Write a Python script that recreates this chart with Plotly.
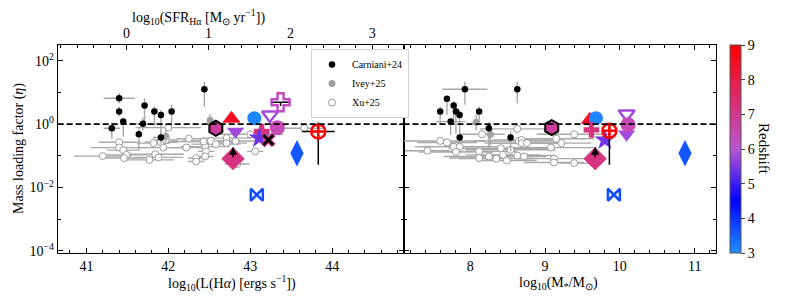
import numpy as np
import plotly.graph_objects as go

# ---------------- data ----------------
# Carniani+24 (left: L(Halpha), right: stellar mass); log10(eta) with asymmetric errors (dex)
car_L = [41.40, 41.40, 41.45, 41.31, 41.71, 41.69, 41.64, 41.83, 41.91, 42.04, 41.91, 42.44]
car_L_eta = [0.82, 0.40, 0.08, -0.13, 0.59, 0.01, -0.32, 0.40, 0.29, 0.40, -0.42, 1.10]
car_L_xerr = [0.19, 0.0, 0.0, 0.10, 0.0, 0.17, 0.0, 0.0, 0.0, 0.0, 0.10, 0.0]
car_L_eup = [0.16, 0.16, 0.10, 0.19, 0.23, 0.20, 0.19, 0.16, 0.16, 0.21, 0.20, 0.24]
car_L_edn = [0.16, 0.16, 0.47, 0.32, 0.56, 0.20, 0.49, 0.47, 0.68, 0.47, 0.20, 0.55]

car_M = [7.93, 8.63, 7.69, 7.78, 7.60, 7.81, 7.86, 8.12, 7.74, 8.25, 7.86, 8.54]
car_M_eta = [1.10, 1.10, 0.80, 0.59, 0.40, 0.40, 0.29, 0.40, 0.08, -0.13, -0.42, -0.42]
car_M_xerr = [0.30, 0.0, 0.0, 0.0, 0.0, 0.0, 0.0, 0.0, 0.20, 0.0, 0.0, 0.0]
car_M_eup = [0.24, 0.24, 0.07, 0.13, 0.16, 0.16, 0.16, 0.16, 0.10, 0.19, 0.19, 0.19]
car_M_edn = [0.49, 0.44, 0.50, 0.50, 0.42, 0.70, 0.74, 0.42, 0.42, 0.63, 0.23, 0.44]

# Ivey+25
ivey_L = [42.51, 41.97]
ivey_L_eta = [0.12, -0.38]
ivey_L_err = [0.20, 0.20]
ivey_M = [8.08, 8.27]
ivey_M_eta = [0.06, -0.32]
ivey_M_err = [0.25, 0.35]

# Xu+25
xu_L = [41.20, 41.40, 41.40, 41.45, 41.49, 41.46, 41.77, 41.82, 41.84, 41.88, 41.91, 41.94,
        41.97, 42.00, 42.22, 42.25, 42.34, 42.34, 42.45, 42.46, 42.45, 42.43, 42.52, 42.58,
        42.71, 42.71, 42.84, 43.00, 43.06, 43.66, 42.82]
xu_L_eta = [-1.01, -0.57, -0.74, -0.82, -0.97, -1.07, -1.13, -0.60, -0.95, -1.05, -0.57, -0.74,
            -0.50, -0.11, -0.74, -0.46, -1.07, -1.18, -0.71, -0.86, -1.02, -0.55, -0.53, -0.63,
            -0.44, -0.60, -1.26, -0.32, -0.86, -0.13, -0.53]
xu_L_xerr = [0.35, 0.25, 0.35, 0.20, 0.30, 0.25, 0.30, 0.20, 0.35, 0.30, 0.20, 0.30,
             0.15, 0.40, 0.20, 0.15, 0.10, 0.10, 0.30, 0.10, 0.10, 0.40, 0.35, 0.30,
             0.30, 0.25, 0.15, 0.40, 0.10, 0.25, 0.30]

xu_M = [7.43, 7.60, 7.69, 7.78, 7.86, 7.81, 8.12, 8.12, 8.16, 8.25, 8.35, 8.41, 8.44, 8.49,
        8.54, 8.63, 8.63, 8.65, 8.69, 8.69, 8.72, 8.76, 9.08, 9.12, 9.12, 9.15, 9.22, 9.39, 9.39]
xu_M_eta = [-0.84, -0.53, -0.58, -0.71, -0.71, -0.88, -0.86, -1.07, -0.32, -1.02, -1.09, -0.76,
            -0.97, -1.15, -0.81, -0.15, -0.99, -0.53, -0.50, -0.60, -1.02, -0.60, -0.74, -1.09,
            -1.21, -0.46, -0.60, -0.32, -1.23]
xu_M_xerr = [0.30, 0.60, 0.40, 0.50, 0.60, 0.50, 0.50, 0.40, 0.30, 0.60, 0.50, 0.70, 0.50, 0.40,
             0.60, 0.50, 0.50, 0.60, 0.40, 0.50, 0.30, 0.50, 0.60, 0.50, 0.40, 0.50, 0.40, 0.50, 0.20]

# Literature high-z objects (coloured by redshift)
lit_symbol = ["hexagon", "triangle-up", "triangle-down", "circle", "triangle-down-open",
              "cross-open", "cross", "star", "x", "diamond", "diamond-tall",
              "circle-cross-open", "bowtie-open", "circle"]
lit_z = [6.8, 8.5, 5.8, 3.1, 5.8, 6.3, 7.2, 5.4, 7.0, 7.2, 3.6, 9.0, 3.7, 6.4]
lit_size = [15, 16, 15, 14, 14, 15, 13, 16, 13, 18, 19, 14, 12, 15]
lit_L = [42.58, 42.77, 42.82, 43.05, 43.24, 43.37, 43.14, 43.11, 43.22, 42.79, 43.57, 43.83, 43.08, 43.33]
lit_L_eta = [-0.13, 0.17, -0.23, 0.19, 0.29, 0.69, -0.23, -0.44, -0.50, -1.09, -0.92, -0.23, -2.23, -0.11]
lit_M = [9.09, 9.60, 10.09, 9.68, 10.09, None, 9.62, 9.80, None, 9.67, 10.87, 9.86, 9.92, 10.11]
lit_M_eta = [-0.11, 0.14, -0.32, 0.19, 0.32, None, -0.18, -0.50, None, -1.09, -0.92, -0.21, -2.23, -0.02]
# black error bars on a few literature points (dex)
lit_L_xerr = [0, 0, 0, 0, 0, 0.12, 0.09, 0, 0, 0, 0, 0.2, 0, 0]
lit_L_eup = [0, 0, 0, 0, 0, 0, 0, 0, 0, 0, 0, 0.28, 0, 0]
lit_L_edn = [0.15, 0, 0, 0, 0, 0.12, 0, 0, 0, 0, 0, 1.05, 0, 0]
lit_M_eup = [0, 0, 0, 0, 0, 0, 0, 0, 0, 0, 0, 0.24, 0, 0]
lit_M_edn = [0.15, 0, 0, 0, 0, 0, 0, 0, 0, 0, 0, 1.07, 0, 0]
lower_limit_idx = 9  # object plotted with an upward arrow
lower_limit_dex = 0.38

L_to_SFR = 41.49
z_ticks = [3, 4, 5, 6, 7, 8, 9]

# ---------------- helpers ----------------
FONT = "Liberation Serif"
GREY = "#a8a8a8"
# the page body has an 8px margin: the figure sits at (8, 8) in the window
OFF = 8
W, H = 785 - OFF, 302 - OFF


def fx(px):
    return (px - OFF) / W


def fy(py):
    return 1 - (py - OFF) / H


def lin(v):
    return 10 ** np.asarray(v, dtype=float)


def yerrs(v, up, dn):
    v = np.asarray(v, dtype=float)
    e = 10 ** v
    return (10 ** (v + np.asarray(up)) - e), (e - 10 ** (v - np.asarray(dn)))


fig = go.Figure()

# invisible trace so the secondary (SFR) axis is drawn
fig.add_trace(go.Scatter(x=np.array(car_L) - L_to_SFR, y=lin(car_L_eta), xaxis="x3", yaxis="y",
                         mode="markers", marker=dict(opacity=0), showlegend=False, hoverinfo="skip"))

# Xu+25
for xs, ys, xe, xa, ya, leg in [(xu_L, xu_L_eta, xu_L_xerr, "x", "y", True),
                                (xu_M, xu_M_eta, xu_M_xerr, "x2", "y2", False)]:
    fig.add_trace(go.Scatter(
        x=xs, y=lin(ys), mode="markers", name="Xu+25", showlegend=leg, legendrank=3,
        xaxis=xa, yaxis=ya,
        marker=dict(symbol="circle", size=7, color="white", line=dict(color="#9a9a9a", width=1)),
        error_x=dict(type="data", array=xe, color=GREY, thickness=1.4, width=0)))

# Ivey+25
for xs, ys, ye, xa, ya, leg in [(ivey_L, ivey_L_eta, ivey_L_err, "x", "y", True),
                                (ivey_M, ivey_M_eta, ivey_M_err, "x2", "y2", False)]:
    up, dn = yerrs(ys, ye, ye)
    fig.add_trace(go.Scatter(
        x=xs, y=lin(ys), mode="markers", name="Ivey+25", showlegend=leg, legendrank=2,
        xaxis=xa, yaxis=ya,
        marker=dict(symbol="circle", size=7, color="#a0a0a0"),
        error_y=dict(type="data", array=up, arrayminus=dn, color=GREY, thickness=1.4, width=0)))

# Carniani+24
for xs, ys, xe, eu, ed, xa, ya, leg in [
        (car_L, car_L_eta, car_L_xerr, car_L_eup, car_L_edn, "x", "y", True),
        (car_M, car_M_eta, car_M_xerr, car_M_eup, car_M_edn, "x2", "y2", False)]:
    up, dn = yerrs(ys, eu, ed)
    fig.add_trace(go.Scatter(
        x=xs, y=lin(ys), mode="markers", name="Carniani+24", showlegend=leg, legendrank=1,
        xaxis=xa, yaxis=ya,
        marker=dict(symbol="circle", size=6.5, color="black"),
        error_x=dict(type="data", array=xe, color=GREY, thickness=1.4, width=0),
        error_y=dict(type="data", array=up, arrayminus=dn, color=GREY, thickness=1.4, width=0)))

# literature objects
for panel in ("L", "M"):
    for i in range(len(lit_symbol)):
        if panel == "L":
            xv, yv = lit_L[i], lit_L_eta[i]
            xa, ya = "x", "y"
            xe = lit_L_xerr[i]
            eu, ed = lit_L_eup[i], lit_L_edn[i]
        else:
            xv, yv = lit_M[i], lit_M_eta[i]
            xa, ya = "x2", "y2"
            xe = 0
            eu, ed = lit_M_eup[i], lit_M_edn[i]
        if xv is None:
            continue
        sym = lit_symbol[i]
        is_open = sym.endswith("-open")
        mk = dict(symbol=sym, size=lit_size[i], color=[lit_z[i]], coloraxis="coloraxis")
        if sym == "hexagon":
            mk["line"] = dict(color="black", width=2)
        elif is_open:
            mk["line"] = dict(width=2.5)
        else:
            mk["line"] = dict(width=0)
        tr = dict(x=[xv], y=[10 ** yv], mode="markers", showlegend=False,
                  xaxis=xa, yaxis=ya, marker=mk)
        if xe:
            tr["error_x"] = dict(type="data", array=[xe], color="black", thickness=1.5, width=0)
        if eu or ed:
            u, d = yerrs([yv], [eu], [ed])
            tr["error_y"] = dict(type="data", array=list(u), arrayminus=list(d),
                                 color="black", thickness=1.5, width=0)
        fig.add_trace(go.Scatter(**tr))
        if sym == "x":
            fig.add_trace(go.Scatter(x=[xv], y=[10 ** yv], mode="markers", showlegend=False,
                                     xaxis=xa, yaxis=ya,
                                     marker=dict(symbol="x-thin-open", size=10, color="black",
                                                 line=dict(width=3, color="black"))))
        if i == lower_limit_idx:
            fig.add_annotation(x=xv, y=yv + lower_limit_dex, ax=xv, ay=yv,
                               xref=xa, yref=ya, axref=xa, ayref=ya, text="",
                               showarrow=True, arrowhead=2, arrowsize=1, arrowwidth=1.6,
                               arrowcolor="black")

# dashed eta=1 lines
for xr, yr in [("x domain", "y"), ("x2 domain", "y2")]:
    fig.add_shape(type="line", xref=xr, yref=yr, x0=0, x1=1, y0=1, y1=1,
                  line=dict(color="black", width=1.8, dash="6px,3px"))

# ---------------- layout ----------------
XL = [fx(57.7), fx(403.5)]
XR = [fx(403.5), fx(715.7)]
YD = [fy(253), fy(45)]
axis_common = dict(showline=True, linecolor="black", linewidth=1, ticks="inside",
                   ticklen=5, tickcolor="black", tickwidth=1, showgrid=False, zeroline=False,
                   tickfont=dict(family=FONT, size=14, color="black"), automargin=False)
Lrange = [40.65, 44.87]

fig.update_layout(
    width=W, height=H, template="none",
    paper_bgcolor="white", plot_bgcolor="white",
    margin=dict(l=0, r=0, t=0, b=0, autoexpand=False),
    font=dict(family=FONT, size=14, color="black"),
    xaxis=dict(domain=XL, anchor="y", range=Lrange, tickvals=[41, 42, 43, 44], mirror=True,
               minor=dict(dtick=0.2, ticks="inside", ticklen=3, tickcolor="black"),
               **axis_common),
    xaxis3=dict(overlaying="x", side="top", anchor="y",
                range=[Lrange[0] - L_to_SFR, Lrange[1] - L_to_SFR], tickvals=[0, 1, 2, 3],
                minor=dict(dtick=0.2, ticks="inside", ticklen=3, tickcolor="black"),
                **axis_common),
    yaxis=dict(domain=YD, anchor="x", type="log", range=[-4.07, 2.5], mirror="ticks",
               tickvals=[1e-4, 1e-2, 1, 1e2],
               ticktext=["10<sup>−4</sup>", "10<sup>−2</sup>", "10<sup>0</sup>", "10<sup>2</sup>"],
               minor=dict(tickvals=[1e-3, 1e-1, 10], ticks="inside", ticklen=3, tickcolor="black"),
               **axis_common),
    xaxis2=dict(domain=XR, anchor="y2", range=[7.11, 11.28], tickvals=[8, 9, 10, 11], mirror="ticks",
                minor=dict(dtick=0.2, ticks="inside", ticklen=3, tickcolor="black"),
                **axis_common),
    yaxis2=dict(domain=YD, anchor="x2", type="log", range=[-4.07, 2.5], matches="y", mirror="ticks",
                tickvals=[1e-4, 1e-2, 1, 1e2], showticklabels=False,
                minor=dict(tickvals=[1e-3, 1e-1, 10], ticks="inside", ticklen=3, tickcolor="black"),
                **axis_common),
    coloraxis=dict(cmin=3, cmax=9,
                   colorscale=[[0.0, "#1e90ff"], [0.25, "#0000ff"], [0.5, "#ba55d3"], [1.0, "#ff0000"]],
                   colorbar=dict(x=fx(729.5), xanchor="left", y=YD[0], yanchor="bottom",
                                 len=YD[1] - YD[0], lenmode="fraction", thickness=11,
                                 xpad=0, ypad=0,
                                 outlinecolor="#555555", outlinewidth=1,
                                 tickvals=z_ticks, ticks="outside", ticklen=4,
                                 tickfont=dict(family=FONT, size=14))),
    legend=dict(x=fx(311), y=fy(49), xanchor="left", yanchor="top",
                bgcolor="white", bordercolor="#d0d0d0", borderwidth=1,
                font=dict(family=FONT, size=10), itemwidth=30, tracegroupgap=0),
)

# axis titles
ann_font = dict(family=FONT, size=14, color="black")
common_ann = dict(xref="paper", yref="paper", showarrow=False, xanchor="center", yanchor="middle")
fig.add_annotation(text="Mass loading factor (<i>η</i>)", x=fx(19), y=fy(149),
                   textangle=-90, font=ann_font, **common_ann)
fig.add_annotation(text="log<sub>10</sub>(L(H<i>α</i>) [ergs s<sup>−1</sup>])", x=fx(232), y=fy(283),
                   font=ann_font, **common_ann)
fig.add_annotation(text="log<sub>10</sub>(M<sub>*</sub>/M<sub>⊙</sub>)", x=fx(558), y=fy(283),
                   font=ann_font, **common_ann)
fig.add_annotation(text="log<sub>10</sub>(SFR<sub>Hα</sub> [M<sub>⊙</sub> yr<sup>−1</sup>])", x=fx(198),
                   y=fy(17), font=ann_font, **common_ann)
fig.add_annotation(text="Redshift", x=fx(764), y=fy(149), textangle=90,
                   font=dict(family=FONT, size=15, color="black"), **common_ann)

fig.write_html("out.html")
